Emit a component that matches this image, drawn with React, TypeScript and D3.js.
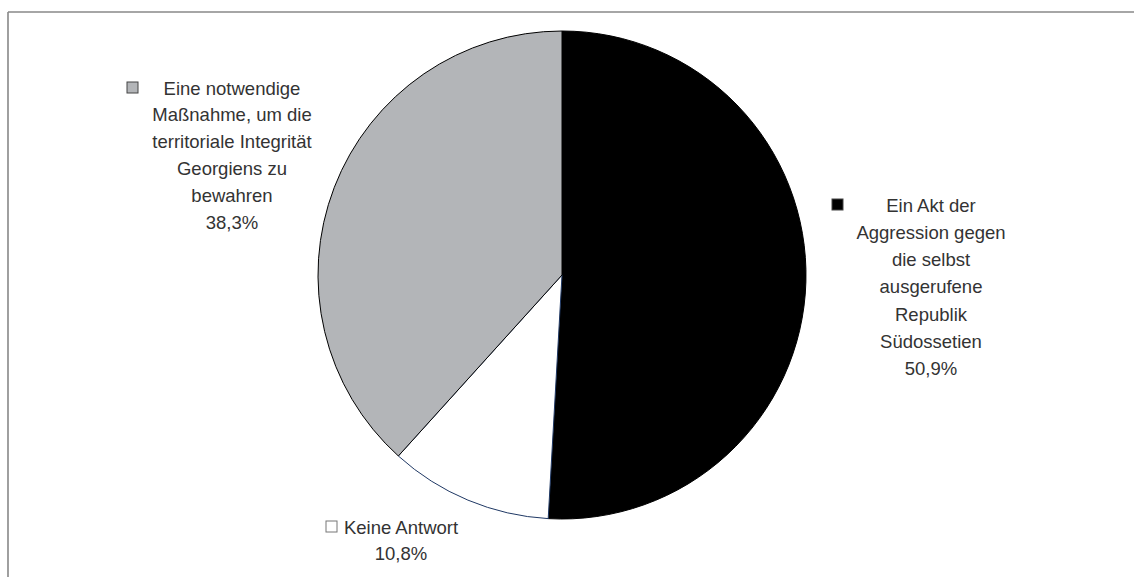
import React from "react";
import * as d3 from "d3";

const categories = [
  "Ein Akt der Aggression gegen die selbst ausgerufene Republik Südossetien",
  "Keine Antwort",
  "Eine notwendige Maßnahme, um die territoriale Integrität Georgiens zu bewahren",
];
const values = [50.9, 10.8, 38.3];
const valueLabels = ["50,9%", "10,8%", "38,3%"];
const labelLines = [
  ["Ein Akt der", "Aggression gegen", "die selbst", "ausgerufene", "Republik", "Südossetien"],
  ["Keine Antwort"],
  ["Eine notwendige", "Maßnahme, um die", "territoriale Integrität", "Georgiens zu", "bewahren"],
];
const fills = ["#000000", "#ffffff", "#b3b5b8"];
const strokes = ["#000000", "#1f3864", "#000000"];

const W = 1134;
const H = 577;
const cx = 562;
const cy = 275;
const R = 244;

const labelPos = [
  { x: 931, y: 205, lh: 27.3, keyX: 832 },
  { x: 401, y: 527, lh: 26, keyX: 326 },
  { x: 232, y: 88, lh: 26.8, keyX: 127 },
];

export default function App() {
  const pie = d3
    .pie<number>()
    .sort(null)
    .value((d) => d)
    .startAngle(0)
    .endAngle(2 * Math.PI);
  const arcs = pie(values);
  const arcGen = d3.arc<d3.PieArcDatum<number>>().innerRadius(0).outerRadius(R);

  return (
    <svg
      width={W}
      height={H}
      style={{ position: "absolute", left: 0, top: 0 }}
      fontFamily="'Liberation Sans', Arial, sans-serif"
    >
      <rect x={0} y={0} width={W} height={H} fill="#fff" />
      <line x1={8} y1={12} x2={W} y2={12} stroke="#888" strokeWidth={1.6} />
      <line x1={8} y1={12} x2={8} y2={H} stroke="#888" strokeWidth={1.6} />
      <g transform={`translate(${cx},${cy})`}>
        {arcs.map((a, i) => (
          <path
            key={categories[i]}
            d={arcGen(a) || ""}
            fill={fills[i]}
            stroke={strokes[i]}
            strokeWidth={1}
          />
        ))}
      </g>
      {labelPos.map((p, i) => {
        const lines = [...labelLines[i], valueLabels[i]];
        return (
          <g key={i} fill="#333" fontSize={18.5}>
            <rect
              x={p.keyX}
              y={p.y - 6}
              width={11}
              height={11}
              fill={fills[i]}
              stroke={i === 1 ? "#777" : "#444"}
              strokeWidth={1}
            />
            {lines.map((t, j) => (
              <text
                key={j}
                x={p.x}
                y={p.y + j * p.lh}
                textAnchor="middle"
                dominantBaseline="central"
              >
                {t}
              </text>
            ))}
          </g>
        );
      })}
    </svg>
  );
}
